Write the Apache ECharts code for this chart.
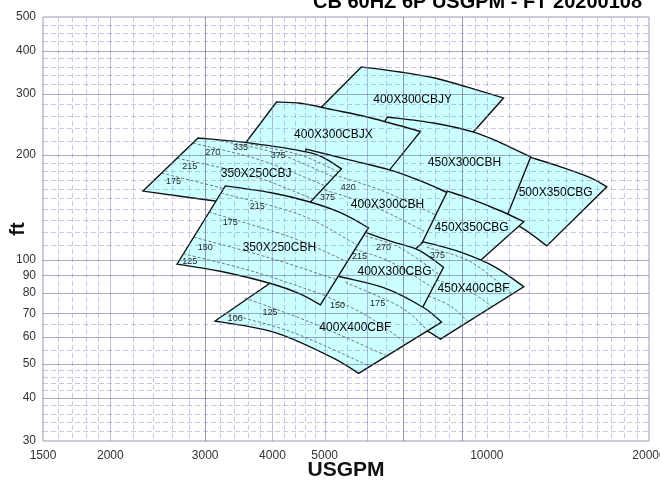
<!DOCTYPE html>
<html><head><meta charset="utf-8">
<script src="https://cdn.jsdelivr.net/npm/echarts@6/dist/echarts.min.js"></script>
<style>html,body{margin:0;padding:0;background:#fff}#c{width:660px;height:496px}</style>
</head><body><div id="c"></div>
<script>
const TITLE = 'CB 60HZ 6P USGPM - FT 20200108';
const X_TICKS = [1500, 2000, 3000, 4000, 5000, 10000, 20000];
const Y_TICKS = [500, 400, 300, 200, 100, 90, 80, 70, 60, 50, 40, 30];
const X_GRID_DARK = [3000, 7000, 9000];
const X_GRID_LIGHT = [2000, 4000, 5000, 6000];
const X_GRID_DASH = [1600,1700,1800,1900,2200,2400,2600,2800,3200,3400,3600,3800,4200,4400,4600,4800,5500,6500,7500,8000,8500,9500,10000,11000,12000,13000,14000,15000,16000,17000,18000,19000];
const Y_GRID_SOLID = [400, 300, 200, 100, 90, 80, 70, 60, 50, 40];
const Y_GRID_DASH = [475,450,425,380,360,340,320,280,260,240,220,190,180,170,160,150,140,130,120,110,65,55,48,46,44,42,38,36,34,32];

// Region outlines: [USGPM, ft] along max (top) and min (bottom) curves, left to right
const CBJY_TOP = [[5850,359],[6910,347],[7960,334],[9210,314],[10740,292]];
const CBJY_BOTTOM = [[4910,273],[6350,249],[7860,238],[9370,230]];
const G500_TOP = [[10840,207],[12060,197],[13710,185],[15590,172],[16700,162]];
const G500_BOTTOM = [[9130,144],[10160,135],[11560,124],[12920,109.5]];
const H450_TOP = [[6540,257.5],[7960,247.5],[9450,233],[10610,217],[12060,197.5]];
const H450_BOTTOM = [[5830,191],[8200,153.5],[10880,132.5]];
const CBJX_TOP = [[4070,284.5],[4510,282],[5190,270],[6000,257.5],[7530,234]];
const CBJX_BOTTOM = [[3530,212.5],[4320,199],[5350,186],[6460,174]];
const H400_TOP = [[4620,208],[5580,193.5],[6620,181],[7530,168.5],[8450,156],[9020,149.5]];
const H400_BOTTOM = [[4320,143.5],[5120,128.5],[6030,115.5],[6910,106.5],[7860,101]];
const G450_TOP = [[8450,157.5],[9330,149.5],[10610,138],[11710,128.5]];
const G450_BOTTOM = [[7470,106.5],[8200,102.5],[9490,96]];
const F450_TOP = [[7630,112.5],[8940,105],[10380,95],[11710,83.5]];
const F450_BOTTOM = [[5830,77.5],[6910,68],[7790,62],[8200,59]];
const G400_TOP = [[5830,121],[6030,119],[6620,113],[7470,106.5],[8310,95]];
const G400_BOTTOM = [[5120,84.5],[6350,77.5],[7500,70]];
const F400_TOP = [[4410,96],[5300,89.5],[6430,83],[7600,73],[8240,66]];
const F400_BOTTOM = [[3130,66.5],[3640,64],[4190,60.5],[5190,52],[5780,47]];
const J350_TOP = [[2910,224],[3640,216.5],[4640,204],[5020,195],[5370,182.5]];
const J350_BOTTOM = [[2300,157.5],[3130,147.5],[3720,142.5],[4490,135.5]];
const H350_TOP = [[3270,163],[3960,156],[4660,147],[5350,136.5],[6030,123.5]];
const H350_BOTTOM = [[2660,97],[3200,92.5],[4000,85],[4510,79.5],[4910,74]];

// Impeller trim curves: [label, points, label anchor]
const J350_TRIMS = [
  ['175', [[2490,177.5],[3340,158.5],[4490,141]], [2620,167.5]],
  ['215', [[2660,196],[3640,175],[4760,149.5]], [2810,185]],
  ['270', [[2850,216.5],[3800,193.5],[5020,163]], [3100,203]],
  ['335', [[3070,222.5],[4050,203],[5190,173]], [3490,210]],
  ['375', [[3640,215],[4510,200],[5300,179]], [4100,200]]
];
const H350_TRIMS = [
  ['215', [[3210,155.5],[4510,134.5],[5750,110]], [3750,142.5]],
  ['175', [[3050,137],[4320,116],[5510,98.5]], [3340,127.5]],
  ['150', [[2860,116],[3960,101],[5260,87.5]], [3000,108.5]],
  ['125', [[2730,104],[3720,92],[5040,78.5]], [2810,98.5]]
];
const H400_TRIMS = [
  ['420', [[4700,183.5],[6350,158.5],[8530,128.5]], [5530,161]],
  ['375', [[4510,166],[6080,143.5],[8200,114]], [5060,150.5]]
];
const G400_TRIMS = [
  ['270', [[5950,117],[6910,108],[8170,90.5]], [6430,108]],
  ['215', [[5580,108],[6620,98.5],[7930,83]], [5800,102]]
];
const F450_TRIMS = [
  ['375', [[7730,108.5],[9330,98.5],[11170,79.5]], [8100,102.5]],
  ['', [[8070,87.5],[9330,80.5],[10250,73]], null],
  ['', [[7790,78.5],[8560,73.5],[9250,66]], null]
];
const F400_TRIMS = [
  ['175', [[5460,86],[6910,73],[7760,62.5]], [6270,74.5]],
  ['150', [[4600,83],[5830,70.5],[7090,57.5]], [5280,73.5]],
  ['125', [[3550,77.5],[4700,66],[6480,53]], [3960,70.5]],
  ['100', [[3250,70],[4320,62],[6030,49.5]], [3410,67.5]]
];

const REGION_NAMES = ['400X300CBJY','500X350CBG','450X300CBH','400X300CBJX','400X300CBH','450X350CBG','450X400CBF','400X300CBG','400X400CBF','350X250CBJ','350X250CBH'];
const REGION_NAME_AT = [[7280,288],[13420,155.5],[9090,190],[5190,229],[6540,143.5],[9370,123.5],[9450,82.5],[6740,92],[5700,63.5],[3730,176.5],[4120,108]];

const REGIONS = [
  [CBJY_TOP, CBJY_BOTTOM, []],
  [G500_TOP, G500_BOTTOM, []],
  [H450_TOP, H450_BOTTOM, []],
  [CBJX_TOP, CBJX_BOTTOM, []],
  [H400_TOP, H400_BOTTOM, H400_TRIMS],
  [G450_TOP, G450_BOTTOM, []],
  [F450_TOP, F450_BOTTOM, F450_TRIMS],
  [G400_TOP, G400_BOTTOM, G400_TRIMS],
  [F400_TOP, F400_BOTTOM, F400_TRIMS],
  [J350_TOP, J350_BOTTOM, J350_TRIMS],
  [H350_TOP, H350_BOTTOM, H350_TRIMS]
].map((r, i) => ({ top: r[0], bottom: r[1], trims: r[2], name: REGION_NAMES[i], at: REGION_NAME_AT[i] }));

const FONT = '"Liberation Sans", Arial, sans-serif';

function curve(pts, move) {
  let d = (move ? 'M' : 'L') + pts[0][0] + ' ' + pts[0][1];
  for (let i = 0; i < pts.length - 1; i++) {
    const p0 = pts[i - 1] || pts[i], p1 = pts[i], p2 = pts[i + 1], p3 = pts[i + 2] || pts[i + 1];
    const c1x = p1[0] + (p2[0] - p0[0]) / 6, c1y = p1[1] + (p2[1] - p0[1]) / 6;
    const c2x = p2[0] - (p3[0] - p1[0]) / 6, c2y = p2[1] - (p3[1] - p1[1]) / 6;
    d += ' C' + c1x + ' ' + c1y + ' ' + c2x + ' ' + c2y + ' ' + p2[0] + ' ' + p2[1];
  }
  return d;
}

function renderRegion(params, api) {
  const r = REGIONS[params.dataIndex];
  const c = p => api.coord(p);
  const top = r.top.map(c);
  const bot = r.bottom.map(c).reverse();
  const d = curve(top, true) + ' ' + curve(bot, false) + ' Z';
  const kids = [{ type: 'path', shape: { pathData: d },
    style: { fill: '#ccffff', stroke: '#111', lineWidth: 1.4, lineJoin: 'miter' } }];
  r.trims.forEach(t => {
    kids.push({ type: 'path', shape: { pathData: curve(t[1].map(c), true) },
      style: { fill: 'none', stroke: '#555', lineWidth: 0.8, lineDash: [3, 2] } });
  });
  r.trims.forEach(t => {
    if (t[0] && t[2]) {
      const p = c(t[2]);
      kids.push({ type: 'text', x: p[0], y: p[1],
        style: { text: t[0], font: '9px ' + FONT, fill: '#222', align: 'center', verticalAlign: 'middle' } });
    }
  });
  const n = c(r.at);
  kids.push({ type: 'text', x: n[0], y: n[1],
    style: { text: r.name, font: '12px ' + FONT, fill: '#000', align: 'center', verticalAlign: 'middle' } });
  return { type: 'group', children: kids };
}

function vLine(color, dash) {
  return (params, api) => {
    const v = api.value(0);
    const a = api.coord([v, 500]), b = api.coord([v, 30]);
    const x = Math.round(a[0]) + 0.5;
    return { type: 'line', shape: { x1: x, y1: a[1], x2: x, y2: b[1] },
      style: { stroke: color, lineWidth: 1, lineDash: dash } };
  };
}
function hLine(color, dash) {
  return (params, api) => {
    const v = api.value(1);
    const a = api.coord([1500, v]), b = api.coord([20000, v]);
    const y = Math.round(a[1]) + 0.5;
    return { type: 'line', shape: { x1: a[0], y1: y, x2: b[0], y2: y },
      style: { stroke: color, lineWidth: 1, lineDash: dash } };
  };
}

const GRID_DASH = 'rgba(120,120,195,0.40)';
const GRID_LIGHT = 'rgba(110,110,170,0.45)';
const GRID_SOLID = 'rgba(100,100,150,0.55)';
const GRID_DARK = 'rgba(90,90,120,0.62)';

const chart = echarts.init(document.getElementById('c'), null, { renderer: 'canvas' });
chart.setOption({
  animation: false,
  backgroundColor: '#fff',
  grid: { left: 43, right: 11, top: 17, bottom: 55, show: true, borderColor: '#9a9ab0', borderWidth: 1, backgroundColor: '#fff' },
  xAxis: { type: 'log', logBase: 10, min: 1500, max: 20000,
    name: 'USGPM', nameLocation: 'middle', nameGap: 19,
    nameTextStyle: { fontSize: 21, fontWeight: 'bold', color: '#111', fontFamily: FONT },
    axisLine: { show: false }, axisTick: { show: false }, axisLabel: { show: false }, splitLine: { show: false } },
  yAxis: { type: 'log', logBase: 10, min: 30, max: 500,
    name: 'ft', nameLocation: 'middle', nameGap: 15, nameRotate: 90,
    nameTextStyle: { fontSize: 20, fontWeight: 'bold', color: '#111', fontFamily: FONT },
    axisLine: { show: false }, axisTick: { show: false }, axisLabel: { show: false }, splitLine: { show: false } },
  graphic: [{ type: 'text', x: 642, y: 2, silent: true,
    style: { text: TITLE, font: 'bold 20px ' + FONT, fill: '#000', align: 'right', verticalAlign: 'middle' } }],
  series: [
    { type: 'custom', silent: true, z: 2, renderItem: renderRegion,
      data: REGIONS.map(r => r.at) },
    { type: 'custom', silent: true, z: 3, renderItem: vLine(GRID_DASH, [5, 3]), data: X_GRID_DASH.map(v => [v, 100]) },
    { type: 'custom', silent: true, z: 3, renderItem: vLine(GRID_LIGHT, null), data: X_GRID_LIGHT.map(v => [v, 100]) },
    { type: 'custom', silent: true, z: 3, renderItem: vLine(GRID_DARK, null), data: X_GRID_DARK.map(v => [v, 100]) },
    { type: 'custom', silent: true, z: 3, renderItem: hLine(GRID_DASH, [5, 3]), data: Y_GRID_DASH.map(v => [3000, v]) },
    { type: 'custom', silent: true, z: 3, renderItem: hLine(GRID_SOLID, null), data: Y_GRID_SOLID.map(v => [3000, v]) },
    { type: 'custom', silent: true, z: 4, clip: false,
      renderItem: (params, api) => {
        const v = api.value(0), p = api.coord([v, 30]);
        return { type: 'text', x: p[0], y: p[1] + 15,
          style: { text: String(v), font: '12px ' + FONT, fill: '#333', align: 'center', verticalAlign: 'middle' } };
      },
      data: X_TICKS.map(v => [v, 30]) },
    { type: 'custom', silent: true, z: 4, clip: false,
      renderItem: (params, api) => {
        const v = api.value(1), p = api.coord([1500, v]);
        return { type: 'text', x: p[0] - 7, y: p[1],
          style: { text: String(v), font: '12px ' + FONT, fill: '#333', align: 'right', verticalAlign: 'middle' } };
      },
      data: Y_TICKS.map(v => [1500, v]) }
  ]
});
</script>
</body></html>
